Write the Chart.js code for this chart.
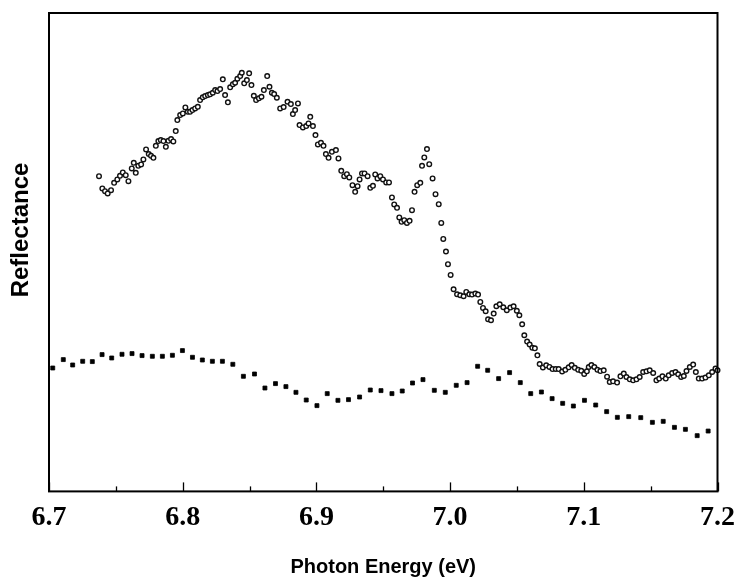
<!DOCTYPE html>
<html>
<head>
<meta charset="utf-8">
<script src="https://cdn.jsdelivr.net/npm/chart.js@4/dist/chart.umd.min.js"></script>
<style>
  html, body { margin: 0; padding: 0; background: #fff; }
  #wrap { width: 735px; height: 583px; }
</style>
</head>
<body>
<div id="wrap"><canvas id="chartCanvas" width="735" height="583"></canvas></div>
<script>
// Photon energy (eV) and reflectance (arbitrary units)
const circleX = [
  6.7374, 6.7399, 6.7419, 6.7439, 6.7464, 6.7487, 6.7511, 6.7531, 6.7552, 6.7574,
  6.7594, 6.7619, 6.7634, 6.7649, 6.7668, 6.7689, 6.7706, 6.7726, 6.7746, 6.7763,
  6.7781, 6.7799, 6.7818, 6.7836, 6.7856, 6.7874, 6.7893, 6.7913, 6.7930, 6.7948,
  6.7960, 6.7981, 6.8001, 6.8020, 6.8038, 6.8055, 6.8073, 6.8093, 6.8113, 6.8130,
  6.8150, 6.8168, 6.8188, 6.8205, 6.8225, 6.8243, 6.8260, 6.8280, 6.8300, 6.8317,
  6.8338, 6.8355, 6.8375, 6.8392, 6.8409, 6.8430, 6.8442, 6.8460, 6.8480, 6.8497,
  6.8514, 6.8532, 6.8549, 6.8570, 6.8589, 6.8607, 6.8632, 6.8649, 6.8667, 6.8684,
  6.8704, 6.8729, 6.8755, 6.8784, 6.8809, 6.8824, 6.8841, 6.8862, 6.8874, 6.8899,
  6.8924, 6.8941, 6.8954, 6.8974, 6.8993, 6.9011, 6.9034, 6.9053, 6.9071, 6.9091,
  6.9116, 6.9146, 6.9165, 6.9186, 6.9208, 6.9228, 6.9246, 6.9270, 6.9290, 6.9308,
  6.9323, 6.9341, 6.9360, 6.9383, 6.9403, 6.9423, 6.9440, 6.9457, 6.9478, 6.9498,
  6.9522, 6.9543, 6.9565, 6.9582, 6.9603, 6.9620, 6.9637, 6.9657, 6.9677, 6.9697,
  6.9715, 6.9734, 6.9754, 6.9777, 6.9790, 6.9807, 6.9827, 6.9844, 6.9869, 6.9891,
  6.9915, 6.9934, 6.9949, 6.9969, 6.9984, 7.0004, 7.0026, 7.0052, 7.0076, 7.0101,
  7.0121, 7.0144, 7.0164, 7.0189, 7.0209, 7.0226, 7.0246, 7.0266, 7.0284, 7.0306,
  7.0326, 7.0346, 7.0371, 7.0398, 7.0424, 7.0451, 7.0475, 7.0499, 7.0518, 7.0539,
  7.0555, 7.0576, 7.0595, 7.0615, 7.0634, 7.0653, 7.0670, 7.0694, 7.0719, 7.0743,
  7.0766, 7.0790, 7.0812, 7.0838, 7.0862, 7.0887, 7.0909, 7.0933, 7.0958, 7.0981,
  7.1003, 7.1023, 7.1037, 7.1057, 7.1079, 7.1102, 7.1124, 7.1149, 7.1174, 7.1194,
  7.1219, 7.1249, 7.1274, 7.1299, 7.1319, 7.1344, 7.1369, 7.1394, 7.1418, 7.1444,
  7.1469, 7.1493, 7.1519, 7.1543, 7.1564, 7.1588, 7.1613, 7.1635, 7.1661, 7.1686,
  7.1706, 7.1728, 7.1748, 7.1768, 7.1793, 7.1818, 7.1838, 7.1860, 7.1885, 7.1910,
  7.1935, 7.1960, 7.1985, 7.2000
];
const circleY = [
  315, 302.7, 300, 297.7, 301, 308.3, 311.7, 315.3, 318.7, 316,
  310, 322.7, 328.3, 318.3, 325.3, 326.7, 331.7, 341.7, 337, 335.3,
  333.3, 345.3, 350, 351, 350, 344.3, 350.3, 352, 349.7, 360,
  371, 376, 377.7, 383.7, 379.3, 379.3, 381, 382.7, 384.3, 391,
  393.7, 395, 396, 396.7, 398.3, 401, 400, 402, 411.7, 396,
  388.7, 403.7, 406.7, 408.3, 412.3, 415, 418.3, 407.7, 411, 417.7,
  406, 395.3, 391, 392.7, 394.3, 401, 415, 404.3, 398.3, 397,
  393.3, 382.7, 384, 389.3, 387, 377, 381, 387.7, 366, 363.7,
  365, 367.7, 374.3, 365, 356, 346.7, 348.3, 345.3, 337, 333.3,
  339.3, 341, 332.7, 320.3, 315, 317, 313.7, 306, 299.3, 305,
  311.7, 317.7, 317.7, 315, 303.3, 305.3, 316.7, 312.7, 315, 311.7,
  308.7, 308.7, 293.7, 286.7, 283.3, 273.7, 269.3, 271, 268.3, 270.3,
  281, 299.3, 306, 308.3, 325.3, 333.7, 342, 327, 312.7, 297,
  287, 268.3, 252.3, 239.7, 227, 216.3, 202, 197, 196, 195,
  199.3, 197, 196.7, 197.7, 196.7, 189.3, 183.3, 180, 172, 171,
  177.7, 185, 187, 184, 181, 183.7, 185, 180.5, 176, 167,
  156, 149.7, 146.8, 143.5, 143, 136, 127.3, 123.8, 126, 124.4,
  122.2, 122.3, 122.2, 119.8, 121.5, 124, 126.3, 123.5, 121.5, 120.5,
  117.3, 120, 124.3, 126.3, 124.3, 121.5, 120.2, 121, 114.6, 109.3,
  110, 108.7, 115, 117.7, 114.3, 112, 111, 112, 114.3, 119.3,
  120, 121, 118.3, 111, 112.7, 115, 112.7, 116, 118.3, 119.3,
  117, 114.3, 115.3, 120.3, 124.3, 126.7, 119.3, 112.7, 112.7, 113.7,
  116, 119.3, 122.7, 121
];
const squareX = [
  6.7028, 6.7107, 6.7177, 6.7252, 6.7324, 6.7397, 6.7469, 6.7546, 6.7621, 6.7696,
  6.7773, 6.7848, 6.7923, 6.7998, 6.8073, 6.8147, 6.8222, 6.8297, 6.8375, 6.8454,
  6.8537, 6.8615, 6.8694, 6.8772, 6.8847, 6.8924, 6.9004, 6.9081, 6.9161, 6.9240,
  6.9323, 6.9403, 6.9483, 6.9565, 6.9642, 6.9719, 6.9797, 6.9882, 6.9964, 7.0046,
  7.0127, 7.0206, 7.0281, 7.0363, 7.0445, 7.0525, 7.0603, 7.0683, 7.0763, 7.0842,
  7.0922, 7.1005, 7.1089, 7.1171, 7.1251, 7.1336, 7.1426, 7.1513, 7.1594, 7.1678,
  7.1760, 7.1848, 7.1930
];
const squareY = [
  123.3, 131.7, 126.3, 130, 129.7, 136.7, 133.3, 137, 137.7, 135.7,
  135, 135, 136, 140.7, 134, 131.3, 130, 130, 127, 115,
  117.3, 103.3, 107.7, 104.7, 99, 91.3, 85.7, 97.7, 91, 91.7,
  94.3, 101.3, 100.7, 97.7, 100.3, 108.3, 111.7, 101, 99, 106,
  108.7, 125, 121, 112.7, 118.7, 108.7, 97.7, 99.3, 92.7, 88,
  85.3, 91, 86.3, 79.7, 74, 74.7, 73.7, 69, 70, 64,
  62, 55.7, 60.3
];
const xTicks = [6.7, 6.8, 6.9, 7.0, 7.1, 7.2];
const yTitle = 'Reflectance';

// frame box, inward tick marks on the energy axis, and the y title
const framePlugin = {
  id: 'frame',
  afterDraw(chart) {
    const { ctx, chartArea: a, scales: { x } } = chart;
    ctx.save();
    ctx.strokeStyle = '#000';
    ctx.lineWidth = 2;
    ctx.strokeRect(a.left, a.top, a.right - a.left, a.bottom - a.top);
    ctx.lineWidth = 1.3;
    for (let v = 0; v <= 10; v++) {
      const px = Math.round(x.getPixelForValue(6.7 + v * 0.05)) + 0.5;
      const len = v % 2 === 0 ? 9 : 5;
      ctx.beginPath();
      ctx.moveTo(px, a.bottom);
      ctx.lineTo(px, a.bottom - len);
      ctx.stroke();
    }
    // y title sits a bit above the middle of the frame in the original
    ctx.translate(21, 230);
    ctx.rotate(-Math.PI / 2);
    ctx.fillStyle = '#000';
    ctx.font = 'bold 24px "Liberation Sans", Arial, sans-serif';
    ctx.textAlign = 'center';
    ctx.textBaseline = 'middle';
    ctx.fillText(yTitle, 0, 0);
    ctx.restore();
  }
};

const ctx = document.getElementById('chartCanvas').getContext('2d');
new Chart(ctx, {
  type: 'scatter',
  data: {
    datasets: [
      {
        label: 'open',
        data: circleX.map((v, i) => ({ x: v, y: circleY[i] })),
        pointStyle: 'circle',
        pointRadius: 2.3,
        borderWidth: 1.4,
        borderColor: '#111',
        backgroundColor: '#fff'
      },
      {
        label: 'filled',
        data: squareX.map((v, i) => ({ x: v, y: squareY[i] })),
        pointStyle: 'rect',
        pointRadius: 2.8,
        borderWidth: 0.8,
        borderColor: '#000',
        backgroundColor: '#000'
      }
    ]
  },
  options: {
    responsive: false,
    animation: false,
    clip: false,
    layout: { padding: { left: 49, right: 17.5, top: 13, bottom: 0 } },
    plugins: { legend: { display: false }, tooltip: { enabled: false } },
    scales: {
      x: {
        type: 'linear',
        min: 6.7,
        max: 7.2,
        afterBuildTicks: (axis) => { axis.ticks = xTicks.map(v => ({ value: v })); },
        // keep the end labels from pushing the frame inwards
        afterFit: (axis) => { axis.paddingLeft = 0; axis.paddingRight = 0; },
        grid: { display: false, drawTicks: false },
        border: { display: false },
        ticks: {
          padding: 10,
          color: '#000',
          font: { family: '"Liberation Serif", "Times New Roman", serif', size: 28, weight: 'bold' },
          callback: (v) => Number(v).toFixed(1)
        },
        title: {
          display: true,
          text: 'Photon Energy (eV)',
          color: '#000',
          font: { family: '"Liberation Sans", Arial, sans-serif', size: 20, weight: 'bold' },
          padding: { top: 10, bottom: 4 }
        }
      },
      y: {
        display: false,
        min: 0,
        max: 478
      }
    }
  },
  plugins: [framePlugin]
});
</script>
</body>
</html>
